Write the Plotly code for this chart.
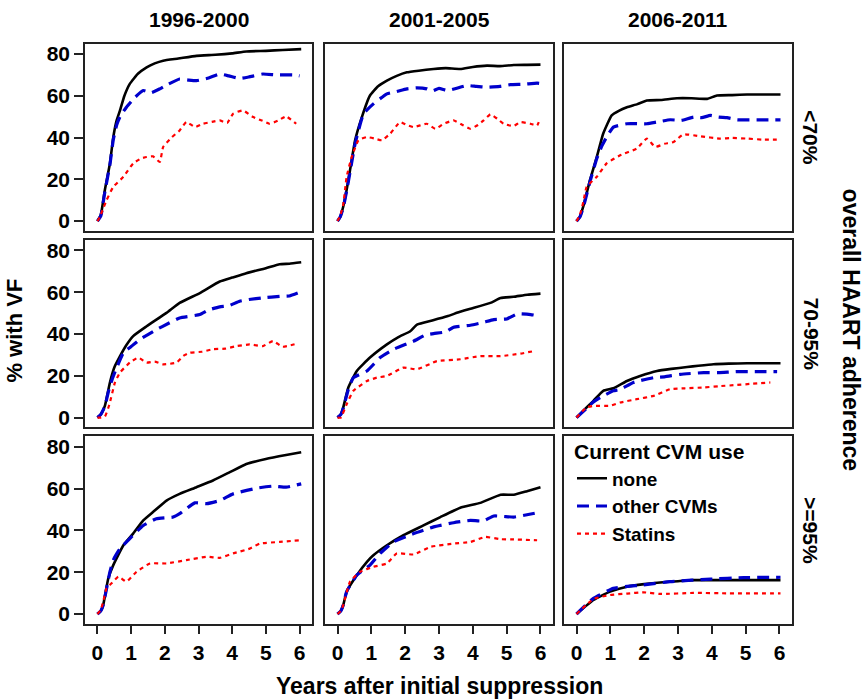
import plotly.graph_objects as go

# ---------------- data ----------------
periods = ["1996-2000", "2001-2005", "2006-2011"]
adherence = ["&lt;70%", "70-95%", "&gt;=95%"]
series_names = ["none", "other CVMs", "Statins"]
y_ticks = [0, 20, 40, 60, 80]
x_ticks = [0, 1, 2, 3, 4, 5, 6]

# Row 1: <70%
p11_none_x = [0, 0.1, 0.22, 0.37, 0.47, 0.57, 0.67, 0.8, 0.96, 1.2, 1.46, 1.7, 1.95, 2.4, 2.94, 3.5, 4.0, 4.42, 5.0, 5.5, 6.05]
p11_none_y = [0, 3, 14.9, 27.6, 40.2, 48.2, 53, 60, 65.7, 70.5, 73.6, 75.5, 76.8, 77.8, 79.1, 79.6, 80.3, 81.2, 81.5, 81.9, 82.3]
p11_other_x = [0, 0.1, 0.22, 0.37, 0.47, 0.57, 0.67, 0.86, 1.1, 1.36, 1.6, 1.85, 2.1, 2.44, 2.7, 2.94, 3.3, 3.63, 3.9, 4.22, 4.5, 4.91, 5.3, 5.8, 6.0]
p11_other_y = [0, 2.5, 14, 27, 39, 46, 50, 54.5, 59, 62.5, 61.5, 63.3, 65.5, 68, 67.5, 67.2, 68.5, 70.4, 69.5, 68.3, 69, 70.4, 70, 70, 69.5]
p11_stat_x = [0, 0.07, 0.17, 0.27, 0.47, 0.77, 1.06, 1.3, 1.46, 1.65, 1.85, 1.95, 2.2, 2.44, 2.64, 2.9, 3.13, 3.4, 3.63, 3.85, 4.03, 4.32, 4.62, 4.9, 5.11, 5.35, 5.6, 5.9]
p11_stat_y = [0, 2, 6, 10, 16.4, 21.2, 27.6, 30, 30.7, 31, 28.3, 35.5, 40, 43.4, 47.4, 45, 46.6, 47.5, 48.2, 47, 51.4, 53, 49.8, 48, 46.6, 48, 50.1, 46.6]

p12_none_x = [0, 0.08, 0.17, 0.27, 0.37, 0.52, 0.72, 0.96, 1.2, 1.46, 1.75, 2.05, 2.4, 2.84, 3.2, 3.63, 4.0, 4.42, 4.8, 5.21, 5.6, 6.0]
p12_none_y = [0, 2, 7, 15, 24.4, 38.7, 49.8, 60.1, 64.5, 67.2, 69.5, 71.2, 72, 72.8, 73.2, 72.8, 73.8, 74.4, 74.2, 74.7, 74.8, 74.9]
p12_other_x = [0, 0.08, 0.17, 0.27, 0.37, 0.52, 0.77, 1.06, 1.46, 1.75, 2.05, 2.35, 2.64, 2.79, 3.0, 3.24, 3.5, 3.83, 4.1, 4.42, 4.8, 5.11, 5.5, 5.9, 6.0]
p12_other_y = [0, 2, 6.5, 14.5, 23.5, 37, 51.4, 56.1, 60.9, 62, 63.3, 63.8, 63.3, 62.2, 63.5, 62.5, 63.5, 64.9, 64.5, 64.1, 64.5, 65.3, 65.5, 66, 65.8]
p12_stat_x = [0, 0.08, 0.17, 0.27, 0.42, 0.62, 0.86, 1.1, 1.31, 1.56, 1.85, 2.05, 2.25, 2.64, 2.89, 3.13, 3.43, 3.7, 3.93, 4.15, 4.32, 4.52, 4.72, 4.91, 5.2, 5.41, 5.7, 5.9, 5.95]
p12_stat_y = [0, 2.5, 8, 21.2, 30.7, 38.7, 40.2, 39.5, 38.7, 41.9, 47.4, 46, 45, 46.6, 44.2, 46.5, 48.2, 46, 44.2, 46, 48.2, 51.1, 49, 46.6, 45.5, 47.4, 46.6, 45.8, 47.4]

p13_none_x = [0, 0.1, 0.2, 0.4, 0.6, 0.79, 1.04, 1.25, 1.49, 1.8, 2.08, 2.5, 2.97, 3.4, 3.86, 4.15, 4.6, 5.04, 5.5, 6.03]
p13_none_y = [0, 2, 7, 19.7, 30.7, 41.9, 50.6, 52.8, 54.5, 56, 57.7, 58, 58.8, 58.8, 58.5, 60.1, 60.3, 60.6, 60.6, 60.6]
p13_other_x = [0, 0.1, 0.2, 0.4, 0.6, 0.75, 0.89, 1.09, 1.49, 2.08, 2.4, 2.77, 3.1, 3.46, 3.7, 3.96, 4.2, 4.45, 4.75, 5.04, 5.5, 6.03]
p13_other_y = [0, 2, 6.5, 19, 30, 36, 40.2, 45, 46.6, 46.6, 47.5, 48.5, 48.2, 49.8, 49.5, 50.6, 49.8, 49.5, 48.5, 48.5, 48.5, 48.5]
p13_stat_x = [0, 0.1, 0.2, 0.3, 0.6, 0.89, 1.29, 1.78, 2.08, 2.33, 2.6, 2.87, 3.16, 3.66, 4.25, 4.6, 5.04, 5.5, 6.03]
p13_stat_y = [0, 3, 9, 16.4, 21.2, 27.6, 31.5, 34.7, 39.5, 35.5, 37, 37.9, 41.5, 40.6, 39.5, 39.8, 39.5, 39, 39]

# Row 2: 70-95%
p21_none_x = [0, 0.1, 0.22, 0.37, 0.5, 0.67, 0.85, 1.06, 1.46, 2.05, 2.44, 3.04, 3.63, 4.0, 4.42, 5.0, 5.41, 5.7, 6.05]
p21_none_y = [0, 1.5, 5.6, 16.8, 24, 29.4, 34.5, 39, 43.7, 50.1, 54.9, 59.6, 65.1, 67, 69.1, 71.5, 73.4, 73.6, 74.3]
p21_other_x = [0, 0.1, 0.22, 0.35, 0.47, 0.77, 1.0, 1.26, 1.75, 2.1, 2.44, 3.04, 3.3, 3.63, 3.9, 4.22, 4.5, 4.91, 5.41, 5.7, 6.0]
p21_other_y = [0, 1.5, 5.5, 14, 19.8, 31, 34, 37.4, 42.1, 45, 47.7, 49.3, 51.5, 53, 53.5, 55.7, 56.5, 57.3, 58, 58.2, 59.9]
p21_stat_x = [0, 0.1, 0.22, 0.35, 0.52, 0.67, 0.96, 1.21, 1.46, 1.7, 1.95, 2.35, 2.55, 2.74, 3.1, 3.43, 3.8, 4.13, 4.52, 4.91, 5.21, 5.5, 5.95]
p21_stat_y = [0, 0, 0.5, 6, 16.8, 21.6, 26.3, 28.7, 26.3, 26.8, 25.5, 26.3, 29.5, 31, 31.5, 32.7, 33, 34.2, 35, 34.2, 36.6, 33.9, 35.5]

p22_none_x = [0, 0.1, 0.17, 0.32, 0.57, 0.96, 1.46, 1.8, 2.15, 2.35, 2.8, 3.24, 3.6, 3.93, 4.52, 4.82, 5.2, 5.61, 6.0]
p22_none_y = [0, 1.5, 4.9, 14.4, 22.3, 28.7, 35, 38.5, 41.3, 44.5, 46.5, 48.5, 50.5, 52.1, 54.9, 57.2, 57.8, 58.8, 59.3]
p22_other_x = [0, 0.1, 0.17, 0.32, 0.47, 0.87, 1.26, 1.65, 2.25, 2.6, 2.84, 3.2, 3.43, 3.93, 4.3, 4.62, 5.0, 5.31, 5.71, 6.0]
p22_other_y = [0, 1.5, 4.5, 13.5, 19.1, 22.3, 28.7, 32.6, 36.6, 39.5, 40.2, 41, 43.2, 44.2, 45.5, 46.9, 47.2, 49.6, 49.3, 48.5]
p22_stat_x = [0, 0.1, 0.27, 0.47, 0.87, 1.16, 1.46, 1.95, 2.35, 2.94, 3.63, 4.22, 4.82, 5.41, 5.8]
p22_stat_y = [0, 0, 6.4, 12.8, 17.5, 19.1, 19.9, 23.9, 23.1, 27, 27.9, 29.4, 29.4, 30.6, 31.8]

p23_none_x = [0, 0.3, 0.5, 0.79, 1.09, 1.49, 1.88, 2.38, 2.8, 3.27, 3.6, 4.05, 4.5, 5.04, 5.5, 6.03]
p23_none_y = [0, 4.9, 8, 12.8, 14.0, 17.5, 19.9, 22.3, 23.3, 24.2, 24.8, 25.5, 25.8, 26, 26, 26]
p23_other_x = [0, 0.3, 0.5, 0.7, 1.09, 1.3, 1.68, 2.28, 2.6, 3.07, 3.76, 4.2, 4.75, 5.3, 5.93]
p23_other_y = [0, 4.5, 7.5, 9.6, 12.8, 13.5, 16.8, 19.1, 19.5, 20.7, 21.5, 21.5, 22, 22, 22]
p23_stat_x = [0, 0.3, 0.5, 0.99, 1.29, 1.78, 2.28, 2.77, 3.2, 3.76, 4.2, 4.75, 5.2, 5.73]
p23_stat_y = [0, 4.9, 5.6, 5.6, 7.2, 8.8, 10.4, 13.6, 14, 14.4, 15, 15.6, 16.2, 16.8]

# Row 3: >=95%
p31_none_x = [0, 0.1, 0.17, 0.32, 0.47, 0.77, 1.06, 1.36, 1.65, 2.05, 2.44, 2.94, 3.43, 3.93, 4.42, 5.0, 5.6, 6.05]
p31_none_y = [0, 1.5, 4.3, 17, 23.4, 32.9, 38.5, 44.8, 48.8, 54.3, 57.5, 60.7, 63.9, 67.9, 71.8, 74.2, 76.1, 77.4]
p31_other_x = [0, 0.1, 0.17, 0.37, 0.47, 0.67, 0.96, 1.36, 1.75, 2.25, 2.44, 2.89, 3.24, 3.63, 4.03, 4.72, 5.21, 5.6, 6.05]
p31_other_y = [0, 1.5, 4.3, 20.2, 25.8, 31.3, 36.1, 42.4, 45.6, 46.4, 48, 53.2, 52.8, 54.3, 57.5, 60.2, 61.2, 60.7, 62.3]
p31_stat_x = [0, 0.1, 0.17, 0.27, 0.42, 0.62, 0.86, 1.16, 1.56, 2.05, 2.64, 3.24, 3.63, 4.03, 4.52, 4.82, 5.41, 6.0]
p31_stat_y = [0, 2, 5.9, 12.3, 14.7, 17.9, 15.5, 20.2, 24.2, 24.2, 25.8, 27.4, 26.9, 29, 31.3, 33.7, 34.5, 35.3]

p32_none_x = [0, 0.1, 0.17, 0.27, 0.57, 0.87, 1.06, 1.46, 1.95, 2.54, 3.04, 3.63, 4.22, 4.82, 5.21, 5.6, 6.0]
p32_none_y = [0, 1.5, 4.3, 10.7, 18.6, 25, 28.1, 32.9, 37.7, 42.4, 46.4, 50.9, 53.2, 57.1, 57.1, 58.8, 60.7]
p32_other_x = [0, 0.1, 0.17, 0.27, 0.57, 0.96, 1.26, 1.65, 2.25, 2.84, 3.43, 3.93, 4.3, 4.62, 5.21, 5.6, 6.0]
p32_other_y = [0, 1.5, 4.3, 10.7, 18.6, 23.4, 29, 34.5, 38.5, 41.7, 43.7, 44.8, 44.5, 46.9, 46.4, 47.5, 48.8]
p32_stat_x = [0, 0.1, 0.17, 0.37, 0.67, 1.06, 1.46, 1.75, 2.25, 2.74, 3.43, 3.93, 4.37, 4.82, 5.21, 5.9]
p32_stat_y = [0, 1.5, 4.3, 15.5, 20.2, 22.6, 24.2, 29, 28.5, 32.1, 33.7, 34.5, 36.9, 35.8, 35.7, 35.3]

p33_none_x = [0, 0.5, 0.99, 1.49, 2.0, 2.47, 3.0, 3.46, 4.45, 5.0, 6.03]
p33_none_y = [0, 6.7, 10.7, 13.1, 14.3, 15.1, 15.7, 16.2, 16.2, 16.2, 16.2]
p33_other_x = [0, 0.5, 1.09, 1.5, 1.98, 2.77, 3.4, 3.96, 4.94, 6.03]
p33_other_y = [0, 7.5, 12.3, 13.2, 13.9, 15.5, 16.2, 16.7, 17.4, 17.6]
p33_stat_x = [0, 0.5, 0.99, 1.5, 1.98, 2.47, 3.46, 4.5, 6.03]
p33_stat_y = [0, 7.2, 9.1, 9.8, 10.4, 9.6, 10.1, 9.9, 9.9]

panels = [
    [(p11_none_x, p11_none_y), (p11_other_x, p11_other_y), (p11_stat_x, p11_stat_y)],
    [(p12_none_x, p12_none_y), (p12_other_x, p12_other_y), (p12_stat_x, p12_stat_y)],
    [(p13_none_x, p13_none_y), (p13_other_x, p13_other_y), (p13_stat_x, p13_stat_y)],
    [(p21_none_x, p21_none_y), (p21_other_x, p21_other_y), (p21_stat_x, p21_stat_y)],
    [(p22_none_x, p22_none_y), (p22_other_x, p22_other_y), (p22_stat_x, p22_stat_y)],
    [(p23_none_x, p23_none_y), (p23_other_x, p23_other_y), (p23_stat_x, p23_stat_y)],
    [(p31_none_x, p31_none_y), (p31_other_x, p31_other_y), (p31_stat_x, p31_stat_y)],
    [(p32_none_x, p32_none_y), (p32_other_x, p32_other_y), (p32_stat_x, p32_stat_y)],
    [(p33_none_x, p33_none_y), (p33_other_x, p33_other_y), (p33_stat_x, p33_stat_y)],
]

# ---------------- styling ----------------
W, H = 864, 700
FONT = "Liberation Sans, Arial, sans-serif"
styles = [
    dict(color="#000000", width=2.6, dash="solid"),
    dict(color="#0000CC", width=3.2, dash="12px,7px"),
    dict(color="#FF0000", width=2.2, dash="4px,4px"),
]
col_px = [(85, 312), (325, 553), (564, 792)]
row_px = [(42.7, 230.7), (240, 428), (437.3, 625.3)]

fig = go.Figure()
layout = dict(
    width=W, height=H,
    margin=dict(l=0, r=0, t=0, b=0),
    paper_bgcolor="white", plot_bgcolor="white",
    font=dict(family=FONT, size=20, color="black"),
    showlegend=True,
)

for r in range(3):
    for c in range(3):
        k = r * 3 + c + 1
        xa = "x" if k == 1 else f"x{k}"
        ya = "y" if k == 1 else f"y{k}"
        xkey = "xaxis" if k == 1 else f"xaxis{k}"
        ykey = "yaxis" if k == 1 else f"yaxis{k}"
        x0, x1 = col_px[c]
        y0, y1 = row_px[r]
        layout[xkey] = dict(
            domain=[x0 / W, x1 / W], anchor=ya, range=[-0.37, 6.37],
            showline=True, mirror=True, linecolor="#222", linewidth=1.6,
            showgrid=False, zeroline=False,
            tickvals=x_ticks, ticks="outside" if r == 2 else "",
            ticklen=9, tickwidth=1.5, tickcolor="#222",
            showticklabels=(r == 2),
            tickfont=dict(family=FONT, size=21, weight="bold"),
        )
        layout[ykey] = dict(
            domain=[1 - y1 / H, 1 - y0 / H], anchor=xa, range=[-4.6, 85],
            showline=True, mirror=True, linecolor="#222", linewidth=1.6,
            showgrid=False, zeroline=False,
            tickvals=y_ticks, ticks="outside" if c == 0 else "",
            ticklen=9, tickwidth=1.5, tickcolor="#222",
            showticklabels=(c == 0),
            tickfont=dict(family=FONT, size=21, weight="bold"),
        )
        for s in range(3):
            xs, ys = panels[k - 1][s]
            fig.add_trace(go.Scatter(
                x=xs, y=ys, mode="lines", xaxis=xa, yaxis=ya,
                line=dict(shape="spline", smoothing=0.4, **styles[s]),
                name=series_names[s],
                showlegend=(k == 9), hoverinfo="skip",
            ))

layout["legend"] = dict(
    x=572 / W, y=1 - 433 / H, xanchor="left", yanchor="top",
    bgcolor="rgba(0,0,0,0)", borderwidth=0,
    title=dict(text="<b>Current CVM use</b>", font=dict(family=FONT, size=21)),
    font=dict(family=FONT, size=19, weight="bold"),
    tracegroupgap=0, itemwidth=30,
)

ann = []
def add_text(text, px, py, size, angle=0):
    ann.append(dict(text=f"<b>{text}</b>", x=px / W, y=1 - py / H,
                    xref="paper", yref="paper", xanchor="center", yanchor="middle",
                    showarrow=False, textangle=angle,
                    font=dict(family=FONT, size=size)))

for c in range(3):
    x0, x1 = col_px[c]
    add_text(periods[c], (x0 + x1) / 2, 19, 21)
for r in range(3):
    y0, y1 = row_px[r]
    add_text(adherence[r], 811, (y0 + y1) / 2, 21, 90)
add_text("% with VF", 15, 331, 22, -90)
add_text("Years after initial suppression", 439, 688, 23)
add_text("overall HAART adherence", 851, 330, 23, 90)
layout["annotations"] = ann

fig.update_layout(**layout)
fig.write_html("out.html", config={"displayModeBar": False},
               post_script="document.body.style.margin='0px';document.body.style.padding='0px';")
